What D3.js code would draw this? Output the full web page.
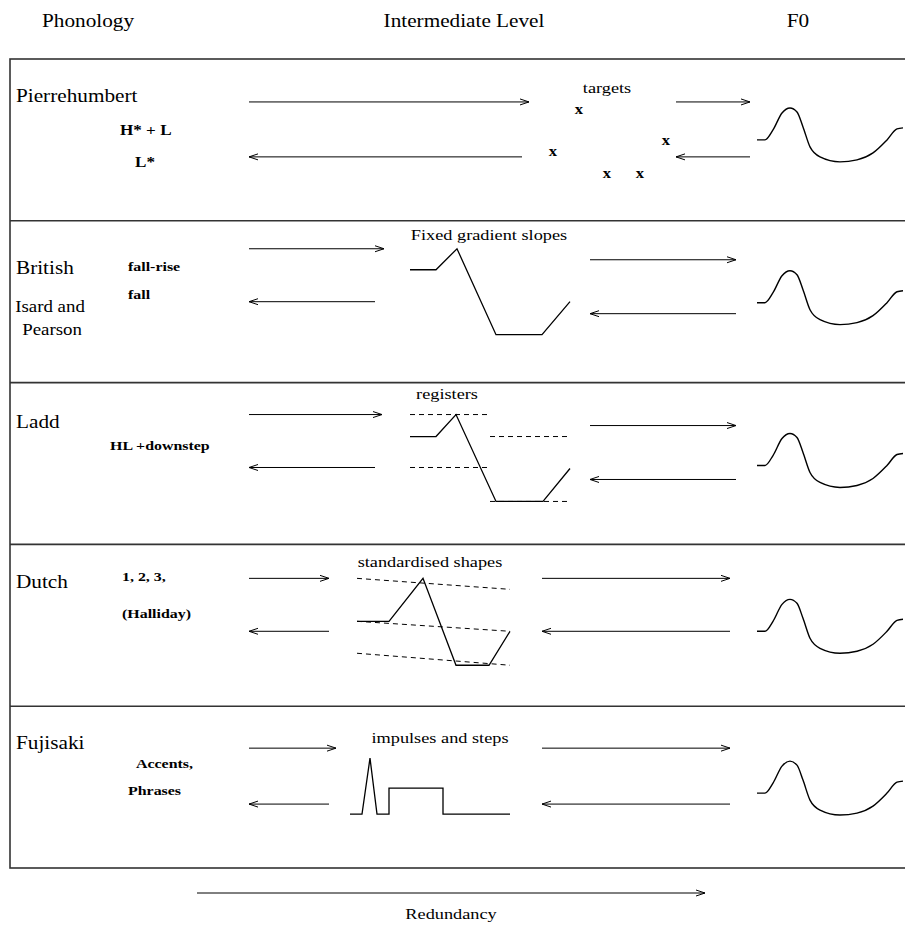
<!DOCTYPE html>
<html>
<head>
<meta charset="utf-8">
<script src="https://cdn.jsdelivr.net/npm/d3@7"></script>
<style>
html, body { margin: 0; padding: 0; background: #fff; }
svg { display: block; }
</style>
</head>
<body>
<div id="chart"></div>
<script>
// Intonation models: phonology -> intermediate level -> F0

var rows = ["Pierrehumbert", "British", "Ladd", "Dutch", "Fujisaki"];

// column headers [text, centre x]
var headers = [["Phonology", 88], ["Intermediate Level", 464], ["F0", 798]];

// row name baselines (local y within row)
var rowNameY = [43, 53, 45, 44, 43];

// second line under "British"
var subNames = [["Isard and", 50, 91], ["Pearson", 52, 114]];

// bold phonological labels [row, text, x, local y, size]
var phonLabels = [
    ["Pierrehumbert", "H* + L", 120, 76, 14.5],
    ["Pierrehumbert", "L*", 135, 108, 14.5],
    ["British", "fall-rise", 128, 50, 13.5],
    ["British", "fall", 128, 78, 13.5],
    ["Ladd", "HL +downstep", 110, 67, 13.5],
    ["Dutch", "1, 2, 3,", 122, 37, 13.5],
    ["Dutch", "(Halliday)", 122, 74, 13.5],
    ["Fujisaki", "Accents,", 136, 62, 13.5],
    ["Fujisaki", "Phrases", 128, 89, 13.5]
];

// intermediate level captions [row, text, centre x, local y]
var captions = [
    ["Pierrehumbert", "targets", 607, 34],
    ["British", "Fixed gradient slopes", 489, 19],
    ["Ladd", "registers", 447, 16],
    ["Dutch", "standardised shapes", 430, 23],
    ["Fujisaki", "impulses and steps", 440, 37]
];

// arrows [row, from x, to x, local y]
var arrows = [
    ["Pierrehumbert", 249, 529, 43], ["Pierrehumbert", 522, 249, 98],
    ["Pierrehumbert", 676, 750, 43], ["Pierrehumbert", 750, 676, 98],
    ["British", 249, 384, 28], ["British", 375, 249, 81],
    ["British", 590, 736, 39], ["British", 736, 590, 93],
    ["Ladd", 249, 382, 32], ["Ladd", 375, 249, 85],
    ["Ladd", 590, 736, 43], ["Ladd", 736, 590, 97],
    ["Dutch", 249, 329, 34], ["Dutch", 329, 249, 87],
    ["Dutch", 542, 730, 34], ["Dutch", 730, 542, 87],
    ["Fujisaki", 249, 336, 42], ["Fujisaki", 329, 249, 98],
    ["Fujisaki", 542, 730, 42], ["Fujisaki", 730, 542, 98]
];

// Pierrehumbert targets [x, local y]
var targets = [[579, 51], [553, 93], [666, 82], [607, 115], [640, 115]];

// stylised contours [x, local y]
var contours = {
    British: [[410, 49], [436, 49], [457, 28], [496, 114], [542, 114], [570, 81]],
    Ladd: [[410, 54], [436, 54], [456, 32], [496, 119], [543, 119], [570, 86]],
    Dutch: [[357, 77], [389, 77], [423, 34], [456, 121], [489, 121], [510, 87]],
    Fujisaki: [[350, 108], [362, 108], [370, 52], [377, 108], [389, 108], [389, 82],
               [443, 82], [443, 108], [510, 108]]
};

// register / declination lines [row, [x1, y1], [x2, y2]]
var registers = [
    ["Ladd", [410, 32], [490, 32]], ["Ladd", [490, 54], [570, 54]],
    ["Ladd", [410, 85], [490, 85]], ["Ladd", [490, 119], [570, 119]],
    ["Dutch", [357, 34], [510, 45]], ["Dutch", [357, 77], [510, 87]],
    ["Dutch", [357, 109], [510, 121]]
];

// F0 contour shape [dx, dy] from its start, start x and start local y per row
var f0Shape = [[0, 0], [8, 0], [16, -10], [25, -27], [33, -32], [40, -28], [46, -13],
               [53, 7], [63, 17], [83, 22], [100, 20], [116, 13], [130, 0], [140, -11], [146, -12]];
var f0StartX = 757;
var f0StartY = [81, 82, 83, 87, 87];

// redundancy arrow
var redundancy = { from: 197, to: 705, y: 893, label: "Redundancy", labelX: 451, labelY: 919 };

var W = 905, H = 925;
var SX = 1.18;   // type in the original is set a bit wide
var FONT = "'Liberation Serif', 'Times New Roman', Times, serif";

var svg = d3.select("#chart").append("svg")
    .attr("width", W).attr("height", H);

var x = d3.scaleLinear().domain([0, 905]).range([0, W]);
var yPage = d3.scaleLinear().domain([0, 925]).range([0, H]);
var row = d3.scaleBand().domain(rows).range([yPage(59), yPage(868)]);
var yl = d3.scaleLinear().domain([0, 162]).range([0, row.bandwidth()]);
function Y(r, v) { return row(r) + yl(v); }

function label(g, txt, px, py, size, anchor, weight) {
    return g.append("text")
        .attr("transform", "translate(" + px + "," + py + ") scale(" + SX + ",1)")
        .attr("text-anchor", anchor || "start")
        .attr("font-family", FONT)
        .attr("font-size", size + "px")
        .attr("font-weight", weight || "normal")
        .attr("fill", "#000")
        .text(txt);
}

function arrow(g, x1, x2, y) {
    var dir = x2 > x1 ? 1 : -1;
    g.append("line")
        .attr("x1", x1).attr("x2", x2).attr("y1", y).attr("y2", y)
        .attr("stroke", "#000").attr("stroke-width", 1);
    g.append("path")
        .attr("d", "M" + (x2 - dir * 9) + "," + (y - 3) + "L" + x2 + "," + y +
                   "L" + (x2 - dir * 9) + "," + (y + 3))
        .attr("fill", "none").attr("stroke", "#000").attr("stroke-width", 1);
}

// headers
headers.forEach(function (h) {
    label(svg, h[0], x(h[1]), yPage(27), 18, "middle");
});

// frame + row separators
svg.append("rect")
    .attr("x", x(10)).attr("y", row.range()[0])
    .attr("width", W + 10).attr("height", row.range()[1] - row.range()[0])
    .attr("fill", "none").attr("stroke", "#333").attr("stroke-width", 1.6);

svg.selectAll("line.sep").data(rows.slice(1)).enter().append("line")
    .attr("class", "sep")
    .attr("x1", x(10)).attr("x2", W + 5)
    .attr("y1", function (d) { return row(d); })
    .attr("y2", function (d) { return row(d); })
    .attr("stroke", "#333").attr("stroke-width", 1.6);

// row names
rows.forEach(function (r, i) {
    label(svg, r, x(16), Y(r, rowNameY[i]), 18, "start");
});
subNames.forEach(function (s) {
    label(svg, s[0], x(s[1]), Y("British", s[2]), 16, "middle");
});

// phonological labels
phonLabels.forEach(function (p) {
    label(svg, p[1], x(p[2]), Y(p[0], p[3]), p[4], "start", "bold");
});

// captions
captions.forEach(function (c) {
    label(svg, c[1], x(c[2]), Y(c[0], c[3]), 15.5, "middle");
});

// arrows
var ag = svg.append("g").attr("class", "arrows");
arrows.forEach(function (a) {
    arrow(ag, x(a[1]), x(a[2]), Y(a[0], a[3]));
});

// targets
targets.forEach(function (t) {
    label(svg, "x", x(t[0]), Y("Pierrehumbert", t[1]) + 4, 14, "middle", "bold");
});

// register lines
svg.selectAll("line.reg").data(registers).enter().append("line")
    .attr("class", "reg")
    .attr("x1", function (d) { return x(d[1][0]); })
    .attr("y1", function (d) { return Y(d[0], d[1][1]); })
    .attr("x2", function (d) { return x(d[2][0]); })
    .attr("y2", function (d) { return Y(d[0], d[2][1]); })
    .attr("stroke", "#000").attr("stroke-width", 1)
    .attr("stroke-dasharray", "5,4");

// stylised contours
Object.keys(contours).forEach(function (r) {
    var line = d3.line()
        .x(function (d) { return x(d[0]); })
        .y(function (d) { return Y(r, d[1]); });
    svg.append("path")
        .datum(contours[r])
        .attr("d", line)
        .attr("fill", "none").attr("stroke", "#000").attr("stroke-width", 1.3)
        .attr("stroke-linejoin", "miter");
});

// F0 curves
rows.forEach(function (r, i) {
    var f0Line = d3.line()
        .x(function (d) { return x(f0StartX + d[0]); })
        .y(function (d) { return Y(r, f0StartY[i] + d[1]); })
        .curve(d3.curveMonotoneX);
    svg.append("path")
        .datum(f0Shape)
        .attr("d", f0Line)
        .attr("fill", "none").attr("stroke", "#000").attr("stroke-width", 1.4);
});

// redundancy axis
arrow(svg, x(redundancy.from), x(redundancy.to), yPage(redundancy.y));
label(svg, redundancy.label, x(redundancy.labelX), yPage(redundancy.labelY), 15.5, "middle");
</script>
</body>
</html>
